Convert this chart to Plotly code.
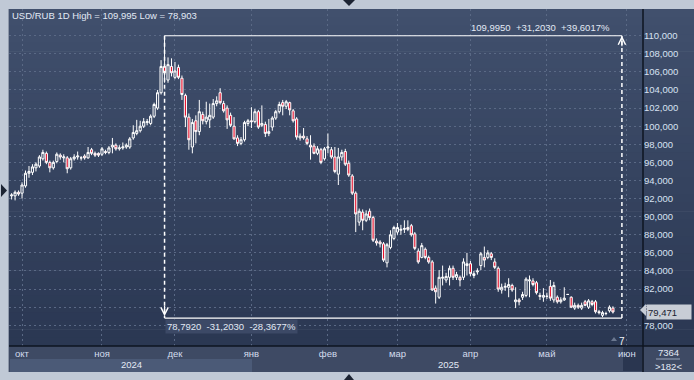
import numpy as np
import pandas as pd
import plotly.graph_objects as go

# ---------------- data ----------------
open_ = [92.3, 92.3, 92.7, 92.6, 93.4, 94.8, 94.9, 95.4, 95.6, 96.4,
         97.0, 96.0, 95.4, 96.1, 96.8, 96.5, 96.5, 95.4, 96.4, 96.6,
         96.5, 96.7, 96.5, 97.4, 97.0, 97.0, 96.9, 97.2, 97.1, 97.7,
         97.9, 97.5, 97.6, 97.7, 97.7, 98.7, 99.2, 99.5, 100.0, 100.4,
         100.3, 101.1, 102.0, 103.7, 106.6, 105.1, 106.6, 105.4, 106.5, 105.3,
         103.4, 101.0, 97.7, 100.6, 99.4, 101.3, 100.5, 100.7, 101.0, 102.5,
         103.7, 102.5, 102.0, 101.2, 100.0, 98.7, 98.1, 98.5, 100.3, 100.6,
         100.5, 101.6, 100.1, 100.2, 99.2, 99.9, 100.9, 101.6, 102.6, 102.2,
         102.6, 101.7, 100.8, 98.7, 98.9, 98.6, 97.9, 97.8, 97.0, 97.4,
         96.4, 97.6, 97.4, 96.6, 94.7, 96.6, 97.2, 95.9, 94.5, 92.6,
         89.4, 90.5, 89.6, 90.6, 89.9, 87.3, 87.2, 87.0, 84.9, 86.6,
         87.6, 88.3, 88.5, 88.6, 88.8, 89.0, 88.1, 86.2, 85.5, 86.4,
         85.5, 85.0, 82.1, 81.1, 83.2, 83.0, 83.3, 84.3, 83.3, 83.3,
         83.3, 84.6, 84.8, 83.5, 83.9, 84.6, 85.5, 85.5, 85.9, 85.0,
         84.3, 81.9, 82.2, 82.2, 82.4, 80.6, 80.8, 81.1, 81.3, 82.9,
         82.9, 82.7, 81.3, 81.1, 81.2, 82.3, 80.8, 81.1, 80.6, 80.8,
         81.4, 81.1, 79.9, 80.2, 79.9, 80.6, 80.0, 80.6, 80.6, 79.5,
         79.1, 79.3, 79.6, 79.9]
high = [92.6, 92.9, 92.9, 93.8, 95.1, 95.6, 95.8, 96.0, 96.8, 97.4,
        97.2, 96.2, 96.2, 97.1, 97.0, 96.9, 96.7, 96.6, 96.9, 97.2,
        96.7, 96.9, 97.7, 97.6, 97.2, 97.1, 97.7, 97.4, 97.8, 98.7,
        98.1, 97.9, 98.2, 98.1, 98.8, 100.1, 100.7, 100.6, 100.9, 100.8,
        101.3, 102.6, 104.0, 107.3, 109.995, 107.6, 107.5, 107.1, 106.8, 105.6,
        103.6, 101.4, 100.8, 101.2, 102.9, 101.6, 102.7, 102.5, 103.0, 103.3,
        104.2, 102.8, 102.3, 101.5, 101.0, 99.0, 98.8, 100.6, 100.8, 102.1,
        101.9, 101.8, 102.3, 100.5, 100.8, 101.1, 101.8, 102.7, 102.9, 102.9,
        102.7, 101.9, 101.0, 99.2, 99.8, 98.9, 99.0, 98.1, 97.8, 97.6,
        97.7, 99.2, 97.7, 97.7, 97.6, 97.4, 97.5, 96.2, 94.7, 92.8,
        90.9, 90.8, 90.7, 90.9, 90.1, 87.6, 87.4, 87.2, 87.1, 88.5,
        89.0, 89.3, 89.1, 89.6, 89.6, 89.2, 88.3, 86.5, 87.1, 86.6,
        85.7, 85.2, 82.4, 84.1, 84.6, 83.8, 84.6, 84.6, 83.9, 83.5,
        85.4, 86.0, 85.1, 84.0, 84.3, 86.1, 86.7, 86.3, 86.1, 85.4,
        84.5, 82.6, 82.7, 83.2, 82.6, 82.2, 81.0, 81.7, 83.3, 83.5,
        83.2, 82.9, 81.6, 82.1, 81.6, 83.0, 82.8, 81.3, 81.1, 82.2,
        81.45, 81.2, 80.5, 80.4, 80.5, 80.8, 80.9, 80.8, 80.8, 79.7,
        79.6, 79.5, 80.2, 80.1]
low = [91.9, 91.8, 92.3, 92.0, 93.2, 94.3, 94.6, 95.0, 95.4, 96.2,
       95.8, 94.9, 95.2, 95.9, 96.3, 96.0, 94.8, 95.2, 96.2, 96.3,
       96.2, 96.3, 96.4, 96.8, 96.6, 96.6, 96.7, 96.9, 96.9, 97.0,
       97.3, 97.3, 97.4, 97.5, 97.5, 98.5, 99.0, 99.3, 99.8, 100.1,
       100.1, 100.9, 101.8, 103.5, 104.8, 104.8, 105.5, 105.2, 105.2, 102.9,
       99.9, 97.4, 97.0, 98.1, 99.0, 100.2, 100.2, 99.8, 100.8, 102.2,
       102.4, 101.5, 99.7, 99.9, 98.5, 97.8, 97.9, 98.3, 100.0, 99.8,
       100.3, 99.7, 99.9, 98.8, 98.9, 99.5, 100.7, 101.4, 101.2, 101.9,
       101.2, 100.4, 98.5, 98.4, 98.5, 97.9, 96.3, 96.9, 96.8, 95.8,
       96.2, 97.0, 96.4, 94.8, 93.5, 96.2, 95.6, 94.4, 92.4, 88.3,
       89.0, 88.5, 89.4, 89.6, 87.2, 86.8, 86.6, 85.0, 84.4, 86.4,
       87.4, 88.0, 88.0, 88.2, 88.4, 87.8, 86.3, 84.8, 85.4, 85.3,
       84.8, 81.8, 80.4, 80.9, 82.4, 82.7, 82.4, 83.0, 83.0, 82.3,
       83.0, 83.5, 83.4, 83.2, 83.6, 84.1, 84.4, 85.3, 85.2, 84.2,
       81.7, 81.5, 81.8, 81.1, 81.7, 79.9, 80.2, 80.8, 81.1, 81.1,
       82.3, 81.4, 80.8, 80.6, 80.9, 80.7, 80.5, 80.4, 80.4, 80.7,
       81.35, 79.9, 79.7, 79.8, 79.7, 80.1, 79.8, 80.1, 79.3, 79.2,
       78.903, 79.1, 79.4, 79.3]
close = [92.4, 92.7, 92.5, 93.5, 94.8, 95.0, 95.5, 95.8, 96.6, 97.1,
         96.0, 95.4, 96.0, 96.9, 96.6, 96.6, 95.3, 96.4, 96.6, 96.7,
         96.5, 96.5, 97.1, 97.0, 96.8, 96.8, 97.5, 97.1, 97.6, 97.9,
         97.5, 97.6, 97.7, 97.9, 98.6, 99.3, 99.5, 100.0, 100.5, 100.5,
         101.1, 102.4, 103.7, 106.6, 105.9, 106.8, 105.9, 106.1, 105.4, 103.5,
         101.0, 98.5, 100.4, 99.4, 101.6, 100.6, 101.0, 101.2, 102.5, 102.8,
         102.6, 101.7, 100.7, 100.1, 98.6, 98.1, 98.5, 100.4, 100.6, 100.5,
         101.6, 99.9, 100.3, 99.2, 99.4, 100.9, 101.6, 102.4, 102.2, 102.7,
         101.8, 100.6, 98.8, 98.9, 98.7, 98.1, 97.7, 97.0, 97.5, 96.0,
         97.5, 97.7, 96.6, 95.0, 96.6, 97.1, 95.8, 94.6, 92.6, 90.3,
         90.6, 89.6, 90.3, 89.9, 87.4, 87.1, 87.0, 85.2, 86.9, 88.0,
         88.8, 88.8, 88.6, 88.7, 88.6, 88.0, 86.5, 85.0, 86.8, 85.5,
         85.0, 81.9, 81.7, 83.3, 83.3, 83.4, 84.3, 83.3, 83.6, 83.0,
         85.0, 84.8, 83.7, 83.7, 84.0, 85.9, 85.2, 86.0, 85.5, 84.4,
         82.0, 82.2, 82.3, 82.5, 81.9, 80.8, 80.6, 81.4, 83.1, 83.0,
         82.5, 81.6, 81.2, 81.3, 81.2, 81.0, 82.4, 80.6, 80.8, 81.0,
         81.41, 80.0, 80.2, 80.0, 80.2, 80.2, 80.7, 80.3, 79.5, 79.4,
         79.4, 79.3, 80.0, 79.471]

first_date = "2024-09-26"
holidays = ["2025-01-01"]
month_ticks = ["2024-10-01", "2024-11-01", "2024-12-02", "2025-01-02", "2025-02-03",
               "2025-03-03", "2025-04-01", "2025-05-01", "2025-06-01"]
month_labels = ["окт", "ноя", "дек", "янв", "фев", "мар", "апр", "май", "июн"]
year_labels = ["2024", "2025"]
price_ticks = list(range(78, 111, 2))
ruler_start, ruler_end = "2024-11-27 12:00", "2025-05-31 02:00"
ruler_high, ruler_low = 109.995, 78.792
title_text = "USD/RUB 1D High = 109,995 Low = 78,903"
bars_total, bars_visible = "7364", "&gt;182&lt;"

# ---------------- helpers ----------------
def ru(v, nd=3):
    return f"{v:.{nd}f}".replace(".", ",")

dates = pd.bdate_range(first_date, periods=len(close), freq="C", holidays=holidays)
xdates = dates + pd.Timedelta(hours=12)
alldays = pd.date_range(dates[0], dates[-1], freq="D")
gaps = [d.strftime("%Y-%m-%d") for d in alldays if d.weekday() >= 5] + holidays

W, H = 694, 380
ML, MR, MT, MB = 9, 51, 9, 34
PW, PH = W - ML - MR, H - MT - MB


def px(x):
    return (x - ML) / PW


def py(y):
    return (H - MB - y) / PH


BG = "#c0c9d6"
fig = go.Figure()
fig.add_trace(go.Candlestick(
    x=xdates, open=open_, high=high, low=low, close=close,
    increasing=dict(line=dict(color="#ffffff", width=1), fillcolor="rgba(0,0,0,0)"),
    decreasing=dict(line=dict(color="#ffffff", width=1), fillcolor="#e6112d"),
    whiskerwidth=0, showlegend=False, hoverinfo="skip"))

shapes = []
# vertical gradient for chart + price-scale area
n = 40
top = np.array([0x41, 0x50, 0x6d])
bot = np.array([0x2b, 0x38, 0x53])
for k in range(n):
    t = k / (n - 1)
    c = (top + (bot - top) * t).astype(int)
    shapes.append(dict(type="rect", xref="paper", yref="paper", layer="below",
                       x0=0, x1=px(W), y0=1 - k / n, y1=1 - (k + 1) / n - 0.002,
                       fillcolor=f"rgb({c[0]},{c[1]},{c[2]})", line=dict(width=0)))
# time-axis strip
shapes.append(dict(type="rect", xref="paper", yref="paper", layer="below",
                   x0=0, x1=px(W), y0=py(372), y1=0, fillcolor="#3e4a64", line=dict(width=0)))
shapes.append(dict(type="rect", xref="paper", yref="paper", layer="below",
                   x0=px(10), x1=px(252), y0=py(372), y1=py(359), fillcolor="#4b5a77", line=dict(width=0)))
shapes.append(dict(type="rect", xref="paper", yref="paper", layer="below",
                   x0=px(623), x1=px(642), y0=py(371), y1=py(347), fillcolor="#2a3650", line=dict(width=0)))
# separators
shapes.append(dict(type="line", xref="paper", yref="paper", x0=0, x1=px(W), y0=0, y1=0,
                   line=dict(color="#0e1420", width=1.5)))
shapes.append(dict(type="line", xref="paper", yref="paper", x0=1, x1=1, y0=py(372), y1=1,
                   line=dict(color="#0e1420", width=1.5)))
shapes.append(dict(type="line", xref="paper", yref="paper", x0=px(8.5), x1=px(8.5), y0=py(372), y1=1,
                   line=dict(color="#8e98aa", width=1)))
shapes.append(dict(type="line", xref="paper", yref="paper", x0=px(656), x1=px(680), y0=py(359), y1=py(359),
                   line=dict(color="#9aa6bb", width=1)))


def tri(pts, color):
    p = "M " + " L ".join(f"{px(a):.5f},{py(b):.5f}" for a, b in pts) + " Z"
    return dict(type="path", xref="paper", yref="paper", path=p, fillcolor=color,
                line=dict(width=0), layer="above")


shapes.append(tri([(343, 0), (355, 0), (349, 6)], "#1c2433"))
shapes.append(tri([(344, 380), (354, 380), (349, 374)], "#1c2433"))
shapes.append(tri([(1, 184), (1, 197), (7, 190.5)], "#1c2433"))
shapes.append(tri([(611, 341), (617, 341), (614, 337)], "#6b7890"))
shapes.append(tri([(640, 310), (646, 304), (646, 316)], "#c8cdd6"))

# measurement ruler
wl = dict(color="#ffffff", width=1.2)
dl = dict(color="#ffffff", width=1.5, dash="4px,3px")
shapes += [
    dict(type="line", xref="x", yref="y", x0=ruler_start, x1=ruler_end, y0=ruler_high, y1=ruler_high, line=wl),
    dict(type="line", xref="x", yref="y", x0=ruler_start, x1=ruler_end, y0=ruler_low, y1=ruler_low, line=wl),
    dict(type="line", xref="x", yref="y", x0=ruler_start, x1=ruler_start, y0=ruler_high, y1=ruler_low, line=dl),
    dict(type="line", xref="x", yref="y", x0=ruler_end, x1=ruler_end, y0=ruler_low, y1=ruler_high, line=dl),
]

diff = ruler_high - ruler_low
up_txt = f"{ru(ruler_high, 4)}\u00a0 +{ru(diff, 4)}\u00a0 +{ru(diff / ruler_low * 100, 4)}%"
dn_txt = f"{ru(ruler_low, 4)}\u00a0 -{ru(diff, 4)}\u00a0 -{ru(diff / ruler_high * 100, 4)}%"

FONT = "Liberation Sans, Arial, sans-serif"
TXT = "#e2e9f5"


def label(x, y, text, size=9.5, color=TXT):
    return dict(xref="paper", yref="paper", x=px(x), y=py(y), xanchor="center", yanchor="middle",
                text=text, showarrow=False, font=dict(family=FONT, size=size, color=color))


ann = [
    dict(xref="paper", yref="paper", x=px(10), y=py(15.5), xanchor="left", yanchor="middle",
         text=title_text, showarrow=False, font=dict(family=FONT, size=9.5, color=TXT)),
    dict(xref="x", yref="y", x=ruler_end, y=ruler_high, xanchor="right", yanchor="bottom",
         xshift=-10, yshift=1, text=up_txt, showarrow=False, font=dict(family=FONT, size=9.5, color=TXT)),
    dict(xref="x", yref="y", x=ruler_start, y=ruler_low, xanchor="left", yanchor="top",
         yshift=-1, text=dn_txt, showarrow=False, bgcolor="#3c4966", borderpad=1,
         font=dict(family=FONT, size=9.5, color=TXT)),
    dict(xref="x", yref="y", x=ruler_end, y=ruler_high, ax=0, ay=12, text="", showarrow=True,
         arrowhead=5, arrowsize=1.2, arrowwidth=1.2, arrowcolor="#ffffff"),
    dict(xref="x", yref="y", x=ruler_start, y=ruler_low + 0.2, ax=0, ay=-12, text="", showarrow=True,
         arrowhead=5, arrowsize=1.2, arrowwidth=1.2, arrowcolor="#ffffff"),
    dict(xref="paper", yref="y", x=px(646), y=close[-1], xanchor="left", yanchor="middle",
         text=ru(close[-1]), showarrow=False, bgcolor="#c8cdd6", width=42, height=12, align="left",
         borderpad=1, font=dict(family=FONT, size=9.5, color="#1a2130")),
    label(131, 364.5, year_labels[0]),
    label(448, 364.5, year_labels[1]),
    label(668, 352, bars_total),
    label(668, 366.5, bars_visible),
    label(622, 341, "7", size=10, color="#f0f4fa"),
]

GRID = "#5a6985"
fig.update_layout(
    template="none",
    width=W, height=H, margin=dict(l=ML, r=MR, t=MT, b=MB, pad=0, autoexpand=False),
    paper_bgcolor=BG, plot_bgcolor="rgba(0,0,0,0)",
    shapes=shapes, annotations=ann, showlegend=False, boxgap=0.12,
    xaxis=dict(type="date", rangeslider=dict(visible=False), automargin=False,
               range=["2024-09-25 18:00", "2025-06-06 03:36"],
               rangebreaks=[dict(values=gaps)],
               tickvals=[d + " 12:00" for d in month_ticks], ticktext=month_labels,
               showgrid=True, gridcolor=GRID, griddash="2px,3px", gridwidth=1,
               ticks="", showline=False, zeroline=False,
               tickfont=dict(family=FONT, size=9.5, color="#d3dced")),
    yaxis=dict(side="right", range=[75.71, 112.95], tickvals=price_ticks, automargin=False,
               ticktext=[ru(v) for v in price_ticks],
               showgrid=True, gridcolor=GRID, griddash="2px,3px", gridwidth=1,
               ticks="", showline=False, zeroline=False,
               tickfont=dict(family=FONT, size=9.5, color="#d8e2f2")),
)

fig.write_html("out.html", config={"displayModeBar": False},
               post_script="document.body.style.margin='0';document.body.style.overflow='hidden';")
